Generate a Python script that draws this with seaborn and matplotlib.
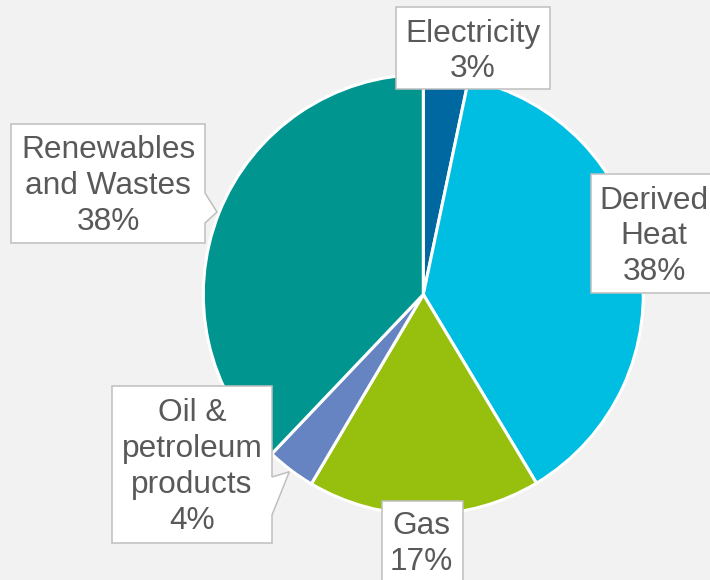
import matplotlib
matplotlib.use("Agg")
import matplotlib.pyplot as plt
import seaborn as sns
import numpy as np
from matplotlib.patches import Polygon

# ---- data ----
categories = ["Electricity", "Derived Heat", "Gas", "Oil & petroleum products", "Renewables and Wastes"]
shares = [3.3, 38.1, 17.1, 3.6, 37.9]
label_texts = ["Electricity\n3%", "Derived\nHeat\n38%", "Gas\n17%",
               "Oil &\npetroleum\nproducts\n4%", "Renewables\nand Wastes\n38%"]
colors = ["#0068A1", "#00BDE2", "#97BF0D", "#6684C2", "#00968F"]

# ---- layout (pixel coordinates, y measured from top) ----
W, H = 710, 580
BG = "#F2F2F2"
center_px = (423.3, 294.5)
radius_px = 220
# box: left, top, right, bottom ; text centre ; pointer base (top y, bottom y) or None
boxes = [
    dict(rect=(396, 7, 550, 89), txt=(473, 51.5), ptr=None),
    dict(rect=(591, 174, 716, 293), txt=(654, 236.5), ptr=None),
    dict(rect=(382, 501, 463, 592), txt=(421, 544), ptr=None),
    dict(rect=(112, 386, 272, 543), txt=(192, 467), ptr=(477, 515)),
    dict(rect=(11, 124, 205, 243), txt=(108, 186), ptr=(193, 223)),
]

sns.set_theme(style="white")
plt.rcParams['font.family'] = ['Liberation Sans', 'DejaVu Sans']

fig = plt.figure(figsize=(W / 100, H / 100), dpi=100, facecolor=BG)
ax = fig.add_axes([0, 0, 1, 1])
ax.set_facecolor(BG)

cx, cy = center_px[0], H - center_px[1]
wedges, _ = ax.pie(shares, colors=sns.color_palette(colors), startangle=90,
                   counterclock=False, center=(cx, cy), radius=radius_px,
                   wedgeprops=dict(edgecolor="white", linewidth=2.2))
ax.set_xlim(0, W)
ax.set_ylim(0, H)
ax.axis("off")

for w, b, lab in zip(wedges, boxes, label_texts):
    l, t, r, bt = b["rect"]
    T, B = H - t, H - bt
    if b["ptr"] is None:
        verts = [(l, T), (r, T), (r, B), (l, B)]
    else:
        mid = np.deg2rad((w.theta1 + w.theta2) / 2)
        tip = (cx + 1.01 * radius_px * np.cos(mid), cy + 1.01 * radius_px * np.sin(mid))
        p1, p2 = H - b["ptr"][0], H - b["ptr"][1]
        verts = [(l, T), (r, T), (r, p1), tip, (r, p2), (r, B), (l, B)]
    ax.add_patch(Polygon(verts, closed=True, facecolor="white", edgecolor="#BFBFBF",
                         linewidth=1.1, zorder=5, joinstyle="miter"))
    ax.text(b["txt"][0], H - b["txt"][1], lab, ha="center", va="center",
            fontsize=22.75, color="#595959", linespacing=1.25, zorder=6)

fig.savefig("out.png", dpi=100, facecolor=BG)
